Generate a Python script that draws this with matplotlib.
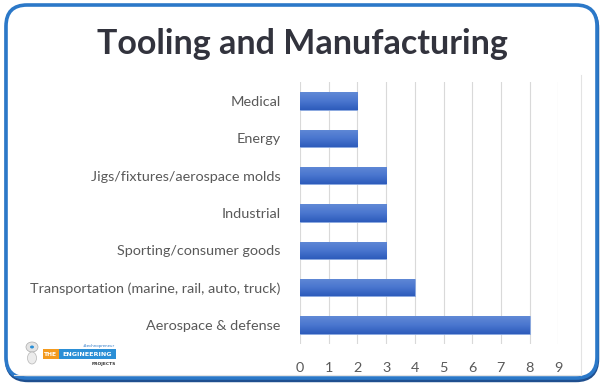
import matplotlib
matplotlib.use("Agg")
import matplotlib.pyplot as plt
import numpy as np
from matplotlib.patches import FancyBboxPatch, Rectangle, Ellipse

categories = ["Medical", "Energy", "Jigs/fixtures/aerospace molds", "Industrial",
              "Sporting/consumer goods", "Transportation (marine, rail, auto, truck)",
              "Aerospace & defense"]
values = [2, 2, 3, 3, 3, 4, 8]
xticks = list(range(0, 10))
title = "Tooling and Manufacturing"

W, H = 602, 385
fig = plt.figure(figsize=(W / 100, H / 100), dpi=100)
fig.patch.set_facecolor("white")


def fx(px):
    return px / W


def fy(py):
    return 1 - py / H


# outer frame (shadow + blue border)
shadow = FancyBboxPatch((fx(7), fy(380)), 590 / W, 373 / H,
                        boxstyle="round,pad=0,rounding_size=0.035",
                        transform=fig.transFigure, facecolor="none",
                        edgecolor="#1f4f8f", linewidth=3.2, zorder=0, mutation_aspect=W / H)
fig.add_artist(shadow)
frame = FancyBboxPatch((fx(6), fy(378)), 591 / W, 373 / H,
                       boxstyle="round,pad=0,rounding_size=0.035",
                       transform=fig.transFigure, facecolor="white",
                       edgecolor="#2b78c8", linewidth=2.6, zorder=1, mutation_aspect=W / H)
fig.add_artist(frame)

# faint chart-area border lines
fig.add_artist(plt.Line2D([fx(581), fx(581)], [fy(75), fy(375)], transform=fig.transFigure,
                          color="#e3e3e3", lw=0.8, zorder=2))
fig.add_artist(plt.Line2D([fx(14), fx(581)], [fy(375), fy(375)], transform=fig.transFigure,
                          color="#e3e3e3", lw=0.8, zorder=2))

fig.text(fx(302), fy(44), title, ha="center", va="center", fontsize=24.5,
         fontweight="bold", family="Lato", color="#32333d", zorder=3)

ax = fig.add_axes([fx(300), fy(343.7), 258.3 / W, 261.4 / H], zorder=3)
ax.set_facecolor("none")
y = np.arange(len(categories))[::-1]
bars = ax.barh(y, values, height=0.47, color="#3f6cc8", edgecolor="#8aa8e0", linewidth=0.6, zorder=3)

# vertical gradient inside bars (lighter top, darker bottom)
grad = np.linspace(0, 1, 64).reshape(-1, 1)
cmap = matplotlib.colors.LinearSegmentedColormap.from_list("g", ["#2d5bbb", "#4a76cf", "#6189d6"])
for b in bars:
    x0, y0 = b.get_x(), b.get_y()
    w, h = b.get_width(), b.get_height()
    im = ax.imshow(grad, extent=[x0, x0 + w, y0, y0 + h], aspect="auto", cmap=cmap,
                   origin="lower", zorder=3.5, interpolation="bilinear")
    im.set_clip_path(b)

ax.set_xlim(0, 9)
ax.set_ylim(-0.5, len(categories) - 0.5)
ax.set_xticks(xticks)
ax.set_xticklabels([str(t) for t in xticks])
ax.set_yticks(y)
ax.set_yticklabels(categories)
ax.grid(axis="x", color="#d9d9d9", lw=0.8, zorder=0)
ax.set_axisbelow(True)
for s in ax.spines.values():
    s.set_visible(False)
ax.tick_params(axis="both", length=0, colors="#595959", labelsize=10.4)
ax.tick_params(axis="x", pad=13)
ax.tick_params(axis="y", pad=14)
for lab in ax.get_xticklabels() + ax.get_yticklabels():
    lab.set_family("Lato")
    lab.set_color("#595959")

# small logo
fig.add_artist(Rectangle((fx(43), fy(359)), 16 / W, 10 / H, transform=fig.transFigure,
                         fc="#f39a1e", ec="none", zorder=3))
fig.add_artist(Rectangle((fx(59), fy(359)), 57 / W, 10 / H, transform=fig.transFigure,
                         fc="#2b8fd6", ec="none", zorder=3))
fig.text(fx(51), fy(354), "THE", fontsize=4.3, fontweight="bold", color="white",
         ha="center", va="center", zorder=4)
fig.text(fx(87.5), fy(354), "ENGINEERING", fontsize=4.6, fontweight="bold", color="white",
         ha="center", va="center", zorder=4)
fig.text(fx(99), fy(346), "#technopreneur", fontsize=2.8, color="#2b78c8", ha="center",
         va="center", zorder=4)
fig.text(fx(104), fy(364), "PROJECTS", fontsize=3.2, fontweight="bold", color="#333333",
         ha="center", va="center", zorder=4)
# robot
fig.add_artist(Ellipse((fx(32), fy(347)), 12 / W, 10 / H, transform=fig.transFigure,
                       fc="#e4e4e4", ec="#aaaaaa", lw=0.5, zorder=3))
fig.add_artist(Ellipse((fx(32), fy(358)), 9 / W, 12 / H, transform=fig.transFigure,
                       fc="#ececec", ec="#b5b5b5", lw=0.5, zorder=3))
fig.add_artist(Ellipse((fx(32), fy(347)), 4 / W, 3 / H, transform=fig.transFigure,
                       fc="#2b8fd6", ec="none", zorder=4))

fig.savefig("out.png", dpi=100)
